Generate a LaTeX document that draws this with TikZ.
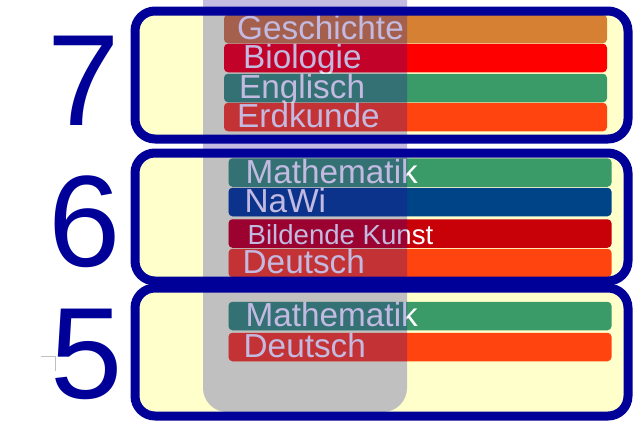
\documentclass[tikz,border=0pt]{standalone}
\usepackage{fontspec}
\setmainfont{Liberation Sans}

\definecolor{klassblau}{HTML}{000099}
\definecolor{kasten}{HTML}{FFFFCC}
\definecolor{spalte}{HTML}{C0C0C0}
\definecolor{schleier}{RGB}{40,10,150}
\definecolor{fgeschichte}{HTML}{D58032}
\definecolor{fbiologie}{HTML}{FF0000}
\definecolor{fenglisch}{HTML}{3A9A68}
\definecolor{ferdkunde}{HTML}{FF4410}
\definecolor{fnawi}{HTML}{004488}
\definecolor{fkunst}{HTML}{C80008}

\tikzset{
  stufe/.style={rectangle, fill=kasten, minimum width=493, minimum height=128, inner sep=0, outer sep=0, rounded corners=20},
  rahmen/.style={draw=klassblau, line width=9, rounded corners=20},
  fach/.style={rectangle, rounded corners=4, minimum width=383, minimum height=28.5, inner sep=0, outer sep=0},
  fachname/.style={anchor=base west, inner sep=0, text=white, font=\fontsize{33.3}{33.3}\selectfont},
  ziffer/.style={anchor=base, inner sep=0, text=klassblau, font=\fontsize{130}{130}\selectfont},
  schleierfill/.style={fill=schleier, opacity=.28, rounded corners=4}
}

\begin{document}
\begin{tikzpicture}[x=1pt, y=-1pt]
        \useasboundingbox (0,0) rectangle (641,423);

        % Spalte ueber weissem Grund
        \fill[schleier, opacity=.28, rounded corners=24] (203,-40) rectangle (407,412);

        \node[stufe] (box7) at (381.5,75) {};
        \node[stufe] (box6) at (381.5,217) {};
        \node[stufe] (box5) at (381.5,352) {};

        \begin{scope}
          \clip[rounded corners=24] (203,-40) rectangle (407,412);
          \fill[spalte, rounded corners=20] (box7.south west) rectangle (box7.north east);
          \fill[spalte, rounded corners=20] (box6.south west) rectangle (box6.north east);
          \fill[spalte, rounded corners=20] (box5.south west) rectangle (box5.north east);
        \end{scope}

        \draw[color=spalte, line width=1] (41,356) -- (55,356) -- (55,371);

        \node[ziffer] (n7) at (84,125) {7};
        \node[ziffer] (n6) at (85,266) {6};
        \node[ziffer] (n5) at (86.5,398) {5};

        % Klasse 7
        \node[fach, fill=fgeschichte] (7-geschichte) at (415.5,29) {};
        \node[fachname] at ([xshift=13pt,yshift=3.5pt]7-geschichte.south west) {Geschichte};
        \node[fach, fill=fbiologie] (7-biologie) at (415.5,58) {};
        \node[fachname] at ([xshift=19pt,yshift=3.5pt]7-biologie.south west) {Biologie};
        \node[fach, fill=fenglisch] (7-englisch) at (415.5,88) {};
        \node[fachname] at ([xshift=15pt,yshift=3.5pt]7-englisch.south west) {Englisch};
        \node[fach, fill=ferdkunde] (7-erdkunde) at (415.5,117) {};
        \node[fachname] at ([xshift=13pt,yshift=3.5pt]7-erdkunde.south west) {Erdkunde};

        % Klasse 6
        \node[fach, fill=fenglisch] (6-mathematik) at (420,172.5) {};
        \node[fachname] at ([xshift=17pt,yshift=3.5pt]6-mathematik.south west) {Mathematik};
        \node[fach, fill=fnawi] (6-nawi) at (420,202) {};
        \node[fachname] at ([xshift=16pt,yshift=3.5pt]6-nawi.south west) {NaWi};
        \node[fach, fill=fkunst] (6-kunst) at (420,233.5) {};
        \node[fachname, font=\fontsize{27.6}{27.6}\selectfont] at ([xshift=19pt,yshift=3.5pt]6-kunst.south west) {Bildende Kunst};
        \node[fach, fill=ferdkunde] (6-deutsch) at (420,263) {};
        \node[fachname] at ([xshift=14pt,yshift=3.5pt]6-deutsch.south west) {Deutsch};

        % Klasse 5
        \node[fach, fill=fenglisch] (5-mathematik) at (420,316) {};
        \node[fachname] at ([xshift=17pt,yshift=3.5pt]5-mathematik.south west) {Mathematik};
        \node[fach, fill=ferdkunde] (5-deutsch) at (420,347) {};
        \node[fachname] at ([xshift=15pt,yshift=3.5pt]5-deutsch.south west) {Deutsch};

        % Spalte ueber den Faechern
        \begin{scope}
          \clip[rounded corners=24] (203,-40) rectangle (407,412);
          \fill[schleierfill] (7-geschichte.south west) rectangle (7-geschichte.north east);
          \fill[schleierfill] (7-biologie.south west) rectangle (7-biologie.north east);
          \fill[schleierfill] (7-englisch.south west) rectangle (7-englisch.north east);
          \fill[schleierfill] (7-erdkunde.south west) rectangle (7-erdkunde.north east);
          \fill[schleierfill] (6-mathematik.south west) rectangle (6-mathematik.north east);
          \fill[schleierfill] (6-nawi.south west) rectangle (6-nawi.north east);
          \fill[schleierfill] (6-kunst.south west) rectangle (6-kunst.north east);
          \fill[schleierfill] (6-deutsch.south west) rectangle (6-deutsch.north east);
          \fill[schleierfill] (5-mathematik.south west) rectangle (5-mathematik.north east);
          \fill[schleierfill] (5-deutsch.south west) rectangle (5-deutsch.north east);
        \end{scope}

        \draw[rahmen] (box7.south west) rectangle (box7.north east);
        \draw[rahmen] (box6.south west) rectangle (box6.north east);
        \draw[rahmen] (box5.south west) rectangle (box5.north east);

      \end{tikzpicture}
\end{document}
